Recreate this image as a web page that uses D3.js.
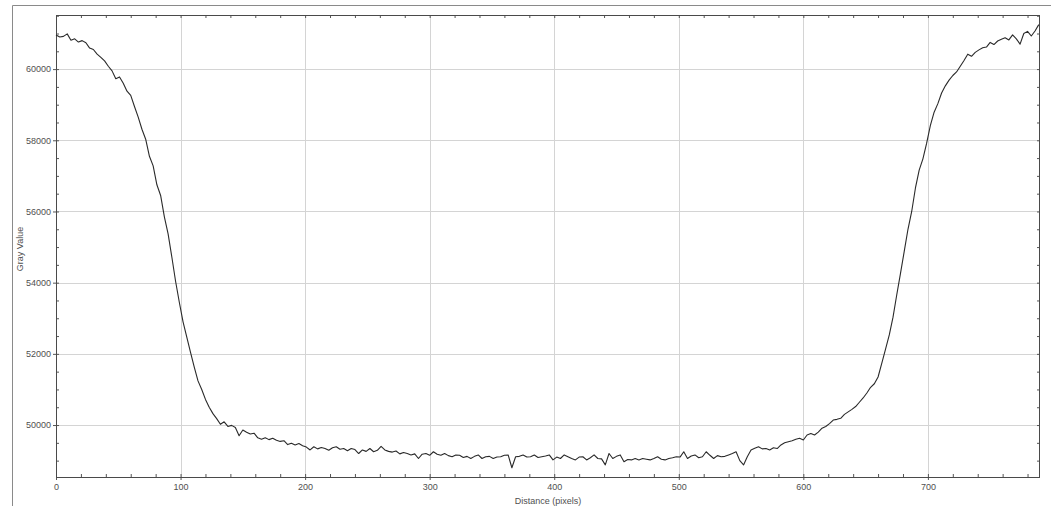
<!DOCTYPE html>
<html>
<head>
<meta charset="utf-8">
<script src="https://cdn.jsdelivr.net/npm/d3@7"></script>
<style>
html,body{margin:0;padding:0;background:#fff;}
svg{display:block;font-family:"Liberation Sans",Arial,sans-serif;}
</style>
</head>
<body>
<svg id="chart" width="1051" height="506"></svg>
<script>
// ---- data ----
const distanceStep = 3; // pixel distance between samples
const grayValues = [
60960,60900,60920,60990,60810,60850,60760,60800,60740,60590,
60550,60420,60330,60230,60080,59950,59730,59780,59600,59380,
59260,58950,58650,58310,58030,57550,57280,56750,56450,55850,
55370,54720,54040,53450,52900,52470,52040,51630,51240,51000,
50720,50500,50320,50180,50020,50090,49960,49990,49930,49700,
49860,49800,49750,49770,49640,49600,49640,49590,49630,49570,
49540,49560,49450,49490,49440,49480,49420,49380,49300,49390,
49330,49370,49340,49290,49360,49390,49320,49340,49280,49340,
49310,49200,49300,49260,49340,49250,49290,49400,49300,49260,
49240,49270,49190,49230,49200,49160,49190,49060,49180,49200,
49150,49250,49180,49150,49200,49140,49110,49160,49150,49090,
49120,49060,49120,49160,49060,49110,49120,49060,49100,49110,
49150,49160,48800,49110,49120,49160,49100,49110,49160,49090,
49110,49130,49160,49020,49100,49060,49160,49110,49060,49020,
49100,49110,49020,49080,49160,49060,49050,48880,49200,49060,
49120,49160,48970,49030,49020,49060,49020,49060,49040,49020,
49060,49110,49040,49020,49060,49080,49110,49100,49250,49060,
49130,49160,49080,49110,49250,49150,49060,49140,49110,49120,
49160,49200,49250,49000,48880,49110,49300,49350,49390,49330,
49340,49300,49360,49340,49440,49500,49530,49560,49600,49630,
49580,49720,49760,49720,49800,49910,49960,50040,50140,50160,
50190,50300,50370,50440,50520,50640,50760,50900,51060,51160,
51350,51740,52130,52530,53030,53660,54260,54880,55500,56000,
56660,57160,57480,57920,58420,58790,59030,59330,59530,59690,
59820,59920,60080,60240,60420,60360,60470,60540,60600,60620,
60750,60690,60790,60840,60880,60820,60960,60850,60700,61000,
61060,60930,61070,61250
];
const xDomain = [0, 790];
const yDomain = [48540, 61520];
const xMajorTicks = [0, 100, 200, 300, 400, 500, 600, 700];
const yMajorTicks = [50000, 52000, 54000, 56000, 58000, 60000];
const xLabel = "Distance (pixels)";
const yLabel = "Gray Value";

// ---- drawing ----
const svg = d3.select("#chart");
const L = 56, R = 1040, T = 15, B = 477;
const x = d3.scaleLinear().domain(xDomain).range([L, R]);
const y = d3.scaleLinear().domain(yDomain).range([B, T]);

// outer frame
svg.append("line").attr("x1",12.5).attr("x2",12.5).attr("y1",5.5).attr("y2",506)
  .attr("stroke","#8a8a8a").attr("stroke-width",1);
svg.append("line").attr("x1",12.5).attr("x2",1051).attr("y1",5.5).attr("y2",5.5)
  .attr("stroke","#8a8a8a").attr("stroke-width",1);

// grid
const grid = svg.append("g").attr("stroke","#d4d4d4").attr("stroke-width",1);
xMajorTicks.filter(v => v > xDomain[0]).forEach(v => {
  grid.append("line").attr("x1",Math.round(x(v))+0.5).attr("x2",Math.round(x(v))+0.5)
    .attr("y1",T).attr("y2",B);
});
yMajorTicks.forEach(v => {
  grid.append("line").attr("y1",Math.round(y(v))+0.5).attr("y2",Math.round(y(v))+0.5)
    .attr("x1",L).attr("x2",R);
});

// minor ticks (inward) via d3 axes
const xMinor = d3.range(0, 790, 20);
const yMinor = d3.range(48500, 61600, 500).filter(v => v >= yDomain[0] && v <= yDomain[1]);
function styleAxis(g){
  g.select(".domain").remove();
  g.selectAll(".tick line").attr("stroke","#555");
  g.selectAll(".tick text").remove();
}
svg.append("g").attr("transform",`translate(0,${B})`)
  .call(d3.axisBottom(x).tickValues(xMinor).tickSize(-3).tickFormat(""))
  .call(styleAxis);
svg.append("g").attr("transform",`translate(0,${T})`)
  .call(d3.axisTop(x).tickValues(xMinor).tickSize(-3).tickFormat(""))
  .call(styleAxis);
svg.append("g").attr("transform",`translate(${L},0)`)
  .call(d3.axisLeft(y).tickValues(yMinor).tickSize(-3).tickFormat(""))
  .call(styleAxis);
svg.append("g").attr("transform",`translate(${R},0)`)
  .call(d3.axisRight(y).tickValues(yMinor).tickSize(-3).tickFormat(""))
  .call(styleAxis);

// major labelled axes
const xAxis = svg.append("g").attr("transform",`translate(0,${B})`)
  .call(d3.axisBottom(x).tickValues(xMajorTicks).tickSize(3).tickPadding(4).tickFormat(d3.format("d")));
xAxis.select(".domain").remove();
xAxis.selectAll(".tick line").attr("stroke","#555");
xAxis.selectAll(".tick text").attr("fill","#505050").attr("font-size",9)
  .attr("font-family","Liberation Sans, Arial, sans-serif");

const yAxis = svg.append("g").attr("transform",`translate(${L},0)`)
  .call(d3.axisLeft(y).tickValues(yMajorTicks).tickSize(3).tickPadding(2).tickFormat(d3.format("d")));
yAxis.select(".domain").remove();
yAxis.selectAll(".tick line").attr("stroke","#555");
yAxis.selectAll(".tick text").attr("fill","#505050").attr("font-size",9)
  .attr("font-family","Liberation Sans, Arial, sans-serif");

// plot border
svg.append("rect").attr("x",L+0.5).attr("y",T+0.5).attr("width",R-L-1).attr("height",B-T)
  .attr("fill","none").attr("stroke","#4a4a4a").attr("stroke-width",1);

// data line
const line = d3.line()
  .x((d,i) => x(i*distanceStep))
  .y(d => y(d));
svg.append("path").datum(grayValues)
  .attr("d", line)
  .attr("fill","none").attr("stroke","#2a2a2a").attr("stroke-width",1.1)
  .attr("stroke-linejoin","round");

// axis titles
svg.append("text").attr("x",(L+R)/2).attr("y",504).attr("text-anchor","middle")
  .attr("font-size",9).attr("fill","#505050").text(xLabel);
svg.append("text").attr("transform",`translate(23,249) rotate(-90)`).attr("text-anchor","middle")
  .attr("font-size",9).attr("fill","#505050").text(yLabel);
</script>
</body>
</html>
